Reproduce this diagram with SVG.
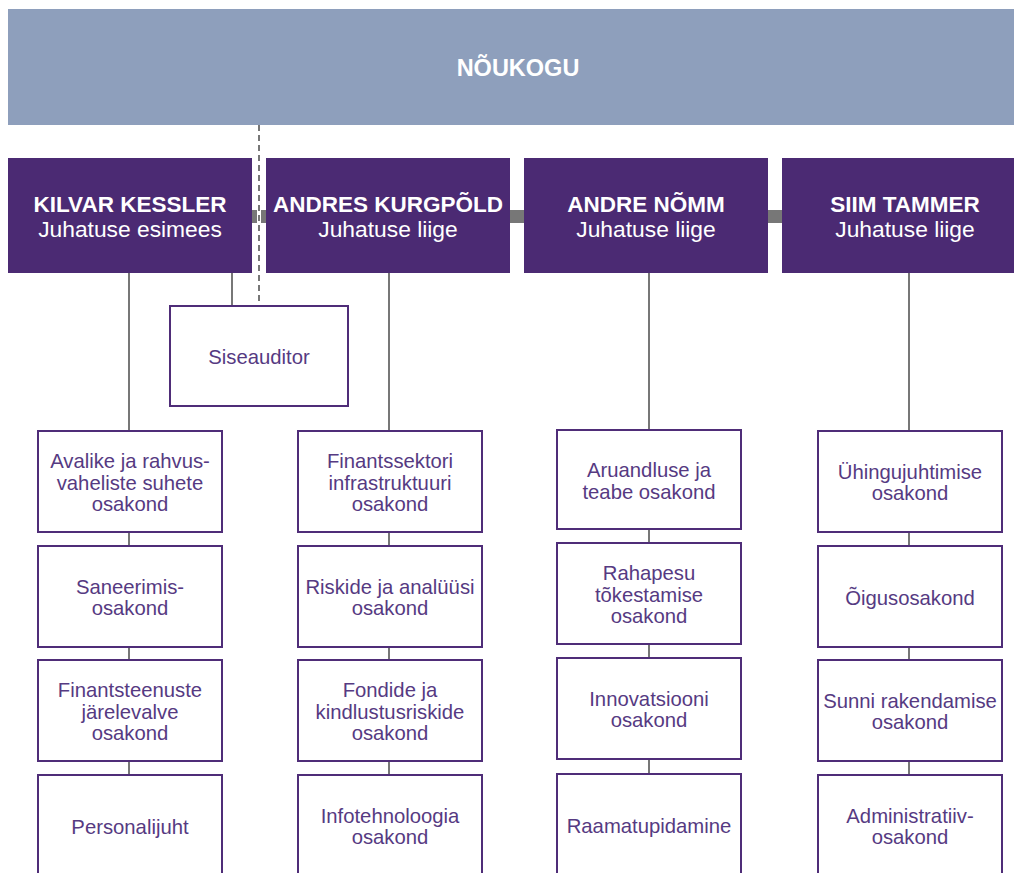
<svg xmlns="http://www.w3.org/2000/svg" width="1014" height="873" viewBox="0 0 1014 873">
<style>
.hd{fill:#4b2a73}
.nm{font-family:"Liberation Sans",Arial,sans-serif;font-weight:bold;font-size:22.5px;fill:#fff;text-anchor:middle}
.sb{font-family:"Liberation Sans",Arial,sans-serif;font-size:22.8px;fill:#fff;text-anchor:middle}
.bx{fill:#fff;stroke:#4f2d78;stroke-width:2}
.t{font-family:"Liberation Sans",Arial,sans-serif;font-size:20.3px;fill:#563a82;text-anchor:middle}
.ln{stroke:#777;stroke-width:2;fill:none}
</style>
<rect width="1014" height="873" fill="#fff"/>
<g id="connectors">
<line class="ln" x1="129" y1="273" x2="129" y2="873"/>
<line class="ln" x1="389" y1="273" x2="389" y2="873"/>
<line class="ln" x1="649" y1="273" x2="649" y2="873"/>
<line class="ln" x1="909" y1="273" x2="909" y2="873"/>
<line class="ln" x1="232" y1="273" x2="232" y2="306"/>
<rect x="252" y="210" width="14" height="13" fill="#777"/>
<rect x="510" y="210" width="14" height="13" fill="#777"/>
<rect x="768" y="210" width="14" height="13" fill="#777"/>
<line x1="259" y1="125" x2="259" y2="306" stroke="#fff" stroke-width="4"/>
<line class="ln" x1="259" y1="125" x2="259" y2="306" stroke-dasharray="6 4"/>
</g>
<g id="noukogu">
<rect x="8" y="9" width="1006" height="116" fill="#8e9fbc"/>
<text class="nm" x="518" y="76" style="font-size:23.5px">NÕUKOGU</text>
</g>
<g id="kessler">
<rect class="hd" x="8" y="158" width="244" height="115"/>
<text class="nm" x="130" y="212">KILVAR KESSLER</text>
<text class="sb" x="130" y="237">Juhatuse esimees</text>
</g>
<g id="kurgpold">
<rect class="hd" x="266" y="158" width="244" height="115"/>
<text class="nm" x="388" y="212">ANDRES KURGPÕLD</text>
<text class="sb" x="388" y="237">Juhatuse liige</text>
</g>
<g id="nomm">
<rect class="hd" x="524" y="158" width="244" height="115"/>
<text class="nm" x="646" y="212">ANDRE NÕMM</text>
<text class="sb" x="646" y="237">Juhatuse liige</text>
</g>
<g id="tammer">
<rect class="hd" x="782" y="158" width="244" height="115"/>
<text class="nm" x="905" y="212">SIIM TAMMER</text>
<text class="sb" x="905" y="237">Juhatuse liige</text>
</g>
<g id="siseauditor">
<rect class="bx" x="170" y="306" width="178" height="100"/>
<text class="t" x="259" y="364">Siseauditor</text>
</g>
<g id="c1r1"><rect class="bx" x="38" y="431" width="184" height="101"/>
<text class="t" x="130" y="468">Avalike ja rahvus-</text><text class="t" x="130" y="489.5">vaheliste suhete</text><text class="t" x="130" y="511">osakond</text></g>
<g id="c1r2"><rect class="bx" x="38" y="546" width="184" height="101"/>
<text class="t" x="130" y="593.75">Saneerimis-</text><text class="t" x="130" y="615.25">osakond</text></g>
<g id="c1r3"><rect class="bx" x="38" y="660" width="184" height="101"/>
<text class="t" x="130" y="697">Finantsteenuste</text><text class="t" x="130" y="718.5">järelevalve</text><text class="t" x="130" y="740">osakond</text></g>
<g id="c1r4"><rect class="bx" x="38" y="775" width="184" height="101"/>
<text class="t" x="130" y="833.5">Personalijuht</text></g>
<g id="c2r1"><rect class="bx" x="298" y="431" width="184" height="101"/>
<text class="t" x="390" y="468">Finantssektori</text><text class="t" x="390" y="489.5">infrastruktuuri</text><text class="t" x="390" y="511">osakond</text></g>
<g id="c2r2"><rect class="bx" x="298" y="546" width="184" height="101"/>
<text class="t" x="390" y="593.75">Riskide ja analüüsi</text><text class="t" x="390" y="615.25">osakond</text></g>
<g id="c2r3"><rect class="bx" x="298" y="660" width="184" height="101"/>
<text class="t" x="390" y="697">Fondide ja</text><text class="t" x="390" y="718.5">kindlustusriskide</text><text class="t" x="390" y="740">osakond</text></g>
<g id="c2r4"><rect class="bx" x="298" y="775" width="184" height="101"/>
<text class="t" x="390" y="822.75">Infotehnoloogia</text><text class="t" x="390" y="844.25">osakond</text></g>
<g id="c3r1"><rect class="bx" x="557" y="430" width="184" height="99"/>
<text class="t" x="649" y="477.25">Aruandluse ja</text><text class="t" x="649" y="498.75">teabe osakond</text></g>
<g id="c3r2"><rect class="bx" x="557" y="543" width="184" height="101"/>
<text class="t" x="649" y="580">Rahapesu</text><text class="t" x="649" y="601.5">tõkestamise</text><text class="t" x="649" y="623">osakond</text></g>
<g id="c3r3"><rect class="bx" x="557" y="658" width="184" height="101"/>
<text class="t" x="649" y="705.75">Innovatsiooni</text><text class="t" x="649" y="727.25">osakond</text></g>
<g id="c3r4"><rect class="bx" x="557" y="774" width="184" height="101"/>
<text class="t" x="649" y="832.5">Raamatupidamine</text></g>
<g id="c4r1"><rect class="bx" x="818" y="431" width="184" height="101"/>
<text class="t" x="910" y="478.75">Ühingujuhtimise</text><text class="t" x="910" y="500.25">osakond</text></g>
<g id="c4r2"><rect class="bx" x="818" y="546" width="184" height="101"/>
<text class="t" x="910" y="604.5">Õigusosakond</text></g>
<g id="c4r3"><rect class="bx" x="818" y="660" width="184" height="101"/>
<text class="t" x="910" y="707.75">Sunni rakendamise</text><text class="t" x="910" y="729.25">osakond</text></g>
<g id="c4r4"><rect class="bx" x="818" y="775" width="184" height="101"/>
<text class="t" x="910" y="822.75">Administratiiv-</text><text class="t" x="910" y="844.25">osakond</text></g>
</svg>
